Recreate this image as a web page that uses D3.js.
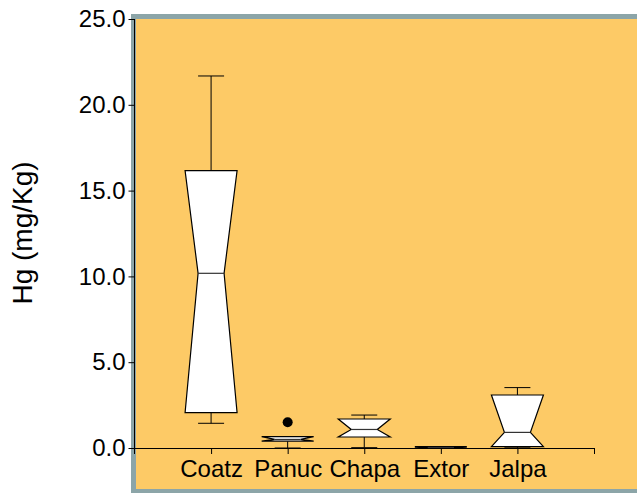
<!DOCTYPE html>
<html>
<head>
<meta charset="utf-8">
<script src="https://cdn.jsdelivr.net/npm/d3@7"></script>
<style>
  html, body { margin: 0; padding: 0; background: #ffffff; }
  svg { display: block; }
  text { font-family: "Liberation Sans", Arial, sans-serif; fill: #000; }
</style>
</head>
<body>
<svg id="chart" width="637" height="493"></svg>
<script>
// ---- data ----
const categories  = ["Coatz", "Panuc", "Chapa", "Extor", "Jalpa"];
const whiskerLow  = [1.44, 0.00, 0.02, 0.00, 0.01];
const q1          = [2.06, 0.40, 0.64, 0.00, 0.08];
const median      = [10.18, 0.50, 1.08, 0.03, 0.91];
const q3          = [16.16, 0.66, 1.69, 0.08, 3.09];
const whiskerHigh = [21.68, 0.66, 1.92, 0.08, 3.52];
const notchLow    = [2.06, 0.40, 0.64, 0.00, 0.08];
const notchHigh   = [16.16, 0.66, 1.69, 0.08, 3.09];
const outlierCat  = ["Panuc"];
const outlierVal  = [1.50];
const yTicks      = [0, 5, 10, 15, 20, 25];
const yLabel      = "Hg (mg/Kg)";

const svg = d3.select("#chart");

// frame
svg.append("rect")
  .attr("x", 133.5).attr("y", 16.5)
  .attr("width", 540).attr("height", 475)
  .attr("fill", "#fdca66")
  .attr("stroke", "#8ca5a8").attr("stroke-width", 5);

const x = d3.scaleLinear().domain([0, 6]).range([134.5, 594]);
const y = d3.scaleLinear().domain([0, 25]).range([448, 19]);
const boxW = 52;

// y axis
const yAxis = svg.append("g").attr("transform", "translate(134.5,0)")
  .call(d3.axisLeft(y).tickValues(yTicks).tickFormat(d3.format(".1f"))
        .tickSize(6).tickSizeOuter(0).tickPadding(3));
yAxis.select(".domain").remove();
yAxis.selectAll("line").attr("stroke", "#000");
yAxis.selectAll("text").style("font-size", "24px")
  .style("font-family", '"Liberation Sans", Arial, sans-serif');
svg.append("line")
  .attr("x1", 134.5).attr("x2", 134.5)
  .attr("y1", y(25)).attr("y2", y(0) + 6)
  .attr("stroke", "#000").attr("stroke-width", 1);

// x axis
const catIndex = c => categories.indexOf(c) + 1;
const xAxis = svg.append("g").attr("transform", `translate(0,${y(0)})`)
  .call(d3.axisBottom(x).tickValues([1, 2, 3, 4, 5, 6])
        .tickFormat(d => categories[d - 1] || "")
        .tickSize(6).tickSizeOuter(0).tickPadding(6));
xAxis.select(".domain").attr("stroke", "#000");
xAxis.selectAll("line").attr("stroke", "#000");
xAxis.selectAll("text").style("font-size", "24px")
  .style("font-family", '"Liberation Sans", Arial, sans-serif');

// boxes
const g = svg.append("g");
categories.forEach((c, i) => {
  const cx = x(i + 1);
  const L = cx - boxW / 2, R = cx + boxW / 2;
  // whiskers
  g.append("line").attr("x1", cx).attr("x2", cx)
    .attr("y1", y(q3[i])).attr("y2", y(whiskerHigh[i])).attr("stroke", "#000");
  g.append("line").attr("x1", cx).attr("x2", cx)
    .attr("y1", y(q1[i])).attr("y2", y(whiskerLow[i])).attr("stroke", "#000");
  g.append("line").attr("x1", cx - boxW / 4).attr("x2", cx + boxW / 4)
    .attr("y1", y(whiskerHigh[i])).attr("y2", y(whiskerHigh[i])).attr("stroke", "#000");
  g.append("line").attr("x1", cx - boxW / 4).attr("x2", cx + boxW / 4)
    .attr("y1", y(whiskerLow[i])).attr("y2", y(whiskerLow[i])).attr("stroke", "#000");
  // notched box
  const pts = [
    [L, y(q3[i])], [R, y(q3[i])], [R, y(notchHigh[i])],
    [cx + boxW / 4, y(median[i])], [R, y(notchLow[i])], [R, y(q1[i])],
    [L, y(q1[i])], [L, y(notchLow[i])], [cx - boxW / 4, y(median[i])],
    [L, y(notchHigh[i])]
  ];
  g.append("path")
    .attr("d", d3.line()(pts) + "Z")
    .attr("fill", "#ffffff").attr("stroke", "#000").attr("stroke-width", 1.2)
    .attr("stroke-linejoin", "miter");
  g.append("line")
    .attr("x1", cx - boxW / 4).attr("x2", cx + boxW / 4)
    .attr("y1", y(median[i])).attr("y2", y(median[i]))
    .attr("stroke", "#333").attr("stroke-width", 1.2);
});

// outliers
outlierCat.forEach((c, k) => {
  g.append("circle").attr("cx", x(catIndex(c))).attr("cy", y(outlierVal[k]))
    .attr("r", 5).attr("fill", "#000");
});

// y label
svg.append("text")
  .attr("transform", "translate(32,233) rotate(-90)")
  .attr("text-anchor", "middle")
  .style("font-size", "28px")
  .text(yLabel);
</script>
</body>
</html>
